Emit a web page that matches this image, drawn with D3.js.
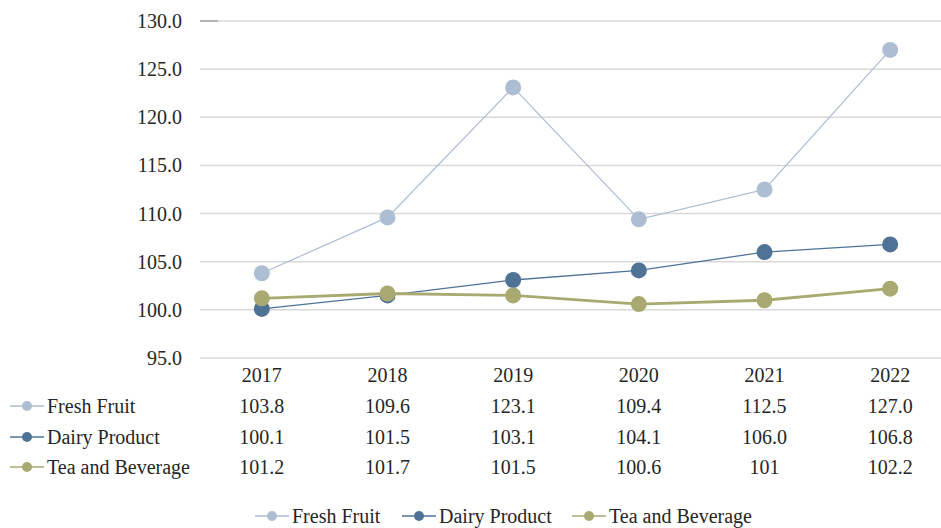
<!DOCTYPE html>
<html><head><meta charset="utf-8">
<script src="https://cdn.jsdelivr.net/npm/d3@7/dist/d3.min.js"></script>
<style>body{margin:0;background:#fff}</style>
</head><body>
<script>
const years = ["2017","2018","2019","2020","2021","2022"];
const seriesNames = ["Fresh Fruit","Dairy Product","Tea and Beverage"];
const freshFruit = [103.8,109.6,123.1,109.4,112.5,127.0];
const dairyProduct = [100.1,101.5,103.1,104.1,106.0,106.8];
const teaBeverage = [101.2,101.7,101.5,100.6,101,102.2];
const tableLabels = [
  ["103.8","109.6","123.1","109.4","112.5","127.0"],
  ["100.1","101.5","103.1","104.1","106.0","106.8"],
  ["101.2","101.7","101.5","100.6","101","102.2"]
];
const yTicks = [95,100,105,110,115,120,125,130];

const colors = ["#adbdd2","#4f7397","#a9aa72"];
const widths = [1.2,1.3,2.8];
const data = [freshFruit, dairyProduct, teaBeverage];

const W=941,H=528, FS=20;
const svg = d3.select("body").append("svg").attr("width",W).attr("height",H)
  .style("display","block")
  .attr("font-family","'Liberation Serif', 'Times New Roman', Tinos, 'DejaVu Serif', serif");
const x = d3.scaleBand().domain(years).range([199,953]);
const y = d3.scaleLinear().domain([95,130]).range([358,21]);

svg.append("g").selectAll("line").data(yTicks).join("line")
  .attr("x1",200).attr("x2",W).attr("y1",d=>y(d)).attr("y2",d=>y(d))
  .attr("stroke","#d9d9d9").attr("stroke-width",1.5);
svg.append("line").attr("x1",200).attr("x2",218).attr("y1",y(130)).attr("y2",y(130))
  .attr("stroke","#a6a6a6").attr("stroke-width",1.5);

svg.append("g").selectAll("text").data(yTicks).join("text")
  .attr("x",182).attr("y",d=>y(d)).attr("dy","0.35em").attr("text-anchor","end")
  .attr("font-size",FS).attr("fill","#262626").text(d=>d.toFixed(1));

const cx = d=>x(d)+x.bandwidth()/2;
const line = d3.line().x((d,i)=>cx(years[i])).y(d=>y(d));
data.forEach((s,k)=>{
  svg.append("path").attr("d",line(s)).attr("fill","none")
    .attr("stroke",colors[k]).attr("stroke-width",widths[k]);
  svg.append("g").selectAll("circle").data(s).join("circle")
    .attr("cx",(d,i)=>cx(years[i])).attr("cy",d=>y(d)).attr("r",8).attr("fill",colors[k]);
});

svg.append("g").selectAll("text").data(years).join("text")
  .attr("x",d=>cx(d)).attr("y",375).attr("dy","0.35em").attr("text-anchor","middle")
  .attr("font-size",FS).attr("fill","#262626").text(d=>d);
const rowY=[406,437,467];
tableLabels.forEach((row,k)=>{
  svg.append("g").selectAll("text").data(row).join("text")
    .attr("x",(d,i)=>cx(years[i])).attr("y",rowY[k]).attr("dy","0.35em").attr("text-anchor","middle")
    .attr("font-size",FS).attr("fill","#262626").text(d=>d);
  svg.append("line").attr("x1",10).attr("x2",44).attr("y1",rowY[k]).attr("y2",rowY[k])
    .attr("stroke",colors[k]).attr("stroke-width",1.5);
  svg.append("circle").attr("cx",27).attr("cy",rowY[k]).attr("r",5).attr("fill",colors[k]);
  svg.append("text").attr("x",47).attr("y",rowY[k]).attr("dy","0.35em")
    .attr("font-size",FS).attr("fill","#262626").text(seriesNames[k]);
});

const legX=[255,402,572];
seriesNames.forEach((n,k)=>{
  const ly=516;
  svg.append("line").attr("x1",legX[k]).attr("x2",legX[k]+34).attr("y1",ly).attr("y2",ly)
    .attr("stroke",colors[k]).attr("stroke-width",1.5);
  svg.append("circle").attr("cx",legX[k]+17).attr("cy",ly).attr("r",5).attr("fill",colors[k]);
  svg.append("text").attr("x",legX[k]+37).attr("y",ly).attr("dy","0.35em")
    .attr("font-size",FS).attr("fill","#262626").text(n);
});
</script>
</body></html>
